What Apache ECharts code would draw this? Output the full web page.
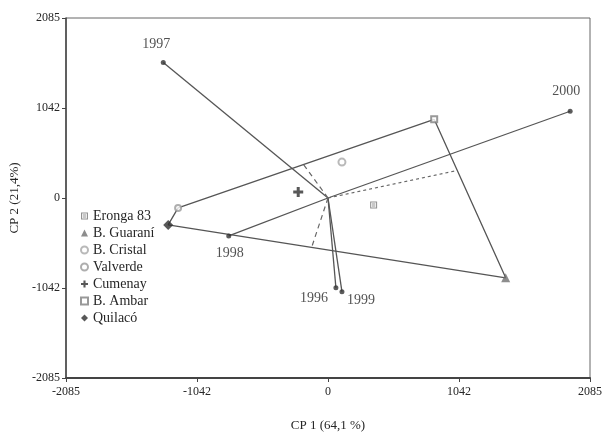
<!DOCTYPE html>
<html>
<head>
<meta charset="utf-8">
<script src="https://cdn.jsdelivr.net/npm/echarts@6/dist/echarts.min.js"></script>
<style>
  html, body { margin: 0; padding: 0; background: #fff; }
  #chart { width: 605px; height: 437px; }
</style>
</head>
<body>
<div id="chart"></div>
<script>
// GGE biplot: environments (years) as vectors, genotypes as points.
const tickLabels = ['-2085', '-1042', '0', '1042', '2085'];

const years = ['1996', '1997', '1998', '1999', '2000'];
const yearPC1 = [63, -1311, -790, 111, 1927];
const yearPC2 = [-1039, 1570, -439, -1085, 1005];

const genotypes = ['Eronga 83', 'B. Guaraní', 'B. Cristal', 'Valverde', 'Cumenay', 'B. Ambar', 'Quilacó'];
const genoPC1 = [363, 1414, 111, -1193, -237, 845, -1272];
const genoPC2 = [-81, -924, 416, -115, 69, 912, -312];

// vertices of the polygon (genotype names, in drawing order)
const hullOrder = ['B. Ambar', 'B. Guaraní', 'Quilacó', 'Valverde'];

const AX_MIN = -2085, AX_MAX = 2085, AX_STEP = 1042.5;
const FONT = '"Liberation Serif", "DejaVu Serif", serif';
const LINE = '#555555';
const TEXT = '#262626';

function gPoint(name) {
  const i = genotypes.indexOf(name);
  return [genoPC1[i], genoPC2[i]];
}

// foot of the perpendicular from the origin to segment a-b
function foot(a, b) {
  const dx = b[0] - a[0], dy = b[1] - a[1];
  const t = -(a[0] * dx + a[1] * dy) / (dx * dx + dy * dy);
  return [a[0] + t * dx, a[1] + t * dy];
}

const hullPts = hullOrder.map(gPoint);
hullPts.push(hullPts[0]);

// perpendiculars to the three long sides
const perpSides = [
  { a: 'Valverde', b: 'B. Ambar', type: [5, 4] },
  { a: 'B. Ambar', b: 'B. Guaraní', type: [3, 3] },
  { a: 'Quilacó', b: 'B. Guaraní', type: [5, 4] }
];

const genoStyle = {
  'Eronga 83': { symbol: 'path://M0,0H10V10H0ZM1.5,1.5V8.5H8.5V1.5ZM2.5,3H7.5V4.3H2.5ZM2.5,5.7H7.5V7H2.5Z', size: 7, color: '#777777' },
  'B. Guaraní': { symbol: 'triangle', size: 9, color: '#707070' },
  'B. Cristal': { symbol: 'emptyCircle', size: 7, color: '#a8a8a8' },
  'Valverde': { symbol: 'emptyCircle', size: 6, color: '#9a9a9a' },
  'Cumenay': { symbol: 'path://M3.5,0H6.5V3.5H10V6.5H6.5V10H3.5V6.5H0V3.5H3.5Z', size: 10, color: '#2e2e2e' },
  'B. Ambar': { symbol: 'emptyRect', size: 6, color: '#808080' },
  'Quilacó': { symbol: 'diamond', size: 10, color: '#2e2e2e' }
};

const yearLabelOffset = {
  '1996': [-22, 11],
  '1997': [-7, -18],
  '1998': [1, 17],
  '1999': [19, 9],
  '2000': [-4, -20]
};

const series = [];

// polygon
series.push({
  type: 'line', data: hullPts, symbol: 'none', silent: true,
  lineStyle: { color: LINE, width: 1.3 }, z: 2
});

// year vectors
years.forEach((y, i) => {
  series.push({
    type: 'line', data: [[0, 0], [yearPC1[i], yearPC2[i]]], symbol: 'none', silent: true,
    lineStyle: { color: LINE, width: 1.3 }, z: 2
  });
});

// perpendicular lines
perpSides.forEach(s => {
  series.push({
    type: 'line', data: [[0, 0], foot(gPoint(s.a), gPoint(s.b))], symbol: 'none', silent: true,
    lineStyle: { color: '#666', width: 1.2, type: s.type }, z: 2
  });
});

// year points with labels
series.push({
  type: 'scatter', symbol: 'circle', symbolSize: 5, z: 4,
  itemStyle: { color: '#333333' },
  data: years.map((y, i) => ({
    value: [yearPC1[i], yearPC2[i]],
    label: {
      show: true, formatter: y, position: 'inside', offset: yearLabelOffset[y],
      color: TEXT, fontFamily: FONT, fontSize: 14
    }
  }))
});

// genotypes
genotypes.forEach((g, i) => {
  const st = genoStyle[g];
  series.push({
    name: g, type: 'scatter', symbol: st.symbol, symbolSize: st.size, z: 5,
    itemStyle: { color: st.color, borderColor: st.color, borderWidth: st.symbol.startsWith('empty') ? 1.3 : 0 },
    data: [[genoPC1[i], genoPC2[i]]]
  });
});

const tickFmt = v => tickLabels[Math.round((v - AX_MIN) / AX_STEP)] || '';

const axisCommon = {
  type: 'value', min: AX_MIN, max: AX_MAX, interval: AX_STEP,
  splitLine: { show: false },
  axisTick: { show: true, inside: false, length: 4, lineStyle: { color: '#444' } },
  axisLabel: { formatter: tickFmt, color: TEXT, fontFamily: FONT, fontSize: 12 },
  nameLocation: 'middle',
  nameTextStyle: { color: TEXT, fontFamily: FONT, fontSize: 13 }
};

const chart = echarts.init(document.getElementById('chart'), null, { renderer: 'canvas' });
chart.setOption({
  animation: false,
  backgroundColor: '#ffffff',
  grid: { left: 66, right: 9, top: 18, bottom: 58, show: true, borderColor: '#666', borderWidth: 1 },
  xAxis: Object.assign({}, axisCommon, {
    name: 'CP 1 (64,1 %)', nameGap: 41,
    axisLine: { show: true, onZero: false, lineStyle: { color: '#444', width: 2 } },
    axisLabel: Object.assign({}, axisCommon.axisLabel, { margin: 8 })
  }),
  yAxis: Object.assign({}, axisCommon, {
    name: 'CP 2 (21,4%)', nameGap: 39,
    axisLine: { show: true, onZero: false, lineStyle: { color: '#444', width: 1.5 } },
    axisLabel: Object.assign({}, axisCommon.axisLabel, { margin: 6 })
  }),
  legend: {
    data: genotypes,
    orient: 'vertical', left: 75, top: 204,
    itemWidth: 7, itemHeight: 7, itemGap: 3,
    textStyle: { color: TEXT, fontFamily: FONT, fontSize: 14 },
    selectedMode: false
  },
  series: series
});
</script>
</body>
</html>
